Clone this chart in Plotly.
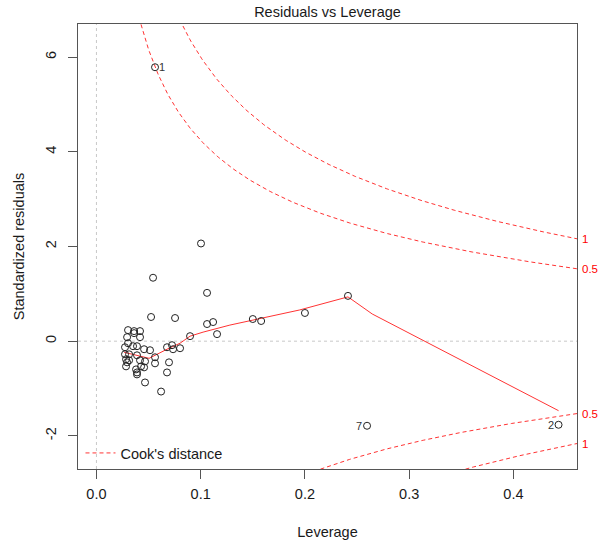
import numpy as np
import plotly.graph_objects as go

# Leverage (hat values) and standardized residuals
leverage = [0.0303, 0.0361, 0.0418, 0.0294, 0.0361, 0.0418, 0.0303, 0.0351, 0.0389, 0.0274,
            0.0457, 0.0514, 0.0274, 0.0313, 0.0389, 0.0562, 0.0284, 0.0313, 0.0294, 0.0418,
            0.0466, 0.0284, 0.0428, 0.0457, 0.0562, 0.0380, 0.0389, 0.0389, 0.0466, 0.0620,
            0.0696, 0.0677, 0.0677, 0.0725, 0.0735, 0.0802, 0.0898, 0.0754, 0.0524, 0.1061,
            0.1119, 0.1157, 0.1061, 0.1003, 0.0543, 0.1500, 0.1580, 0.2000, 0.2413,
            0.0562, 0.2596, 0.4433]
std_resid = [0.234, 0.213, 0.213, 0.085, 0.170, 0.085, -0.043, -0.106, -0.106, -0.128,
             -0.170, -0.191, -0.277, -0.277, -0.298, -0.340, -0.383, -0.404, -0.447, -0.404,
             -0.426, -0.532, -0.532, -0.553, -0.468, -0.596, -0.660, -0.702, -0.872, -1.064,
             -0.447, -0.660, -0.128, -0.085, -0.170, -0.149, 0.106, 0.489, 0.511, 0.362,
             0.404, 0.149, 1.021, 2.064, 1.340, 0.468, 0.426, 0.596, 0.957,
             5.787, -1.787, -1.766]
labelled_idx = [49, 50, 51]
labelled_text = ["1", "7", "2"]

# lowess smoother
smooth_x = [0.0265, 0.0505, 0.0677, 0.0802, 0.0898, 0.1023, 0.128, 0.150, 0.195, 0.2413, 0.2646, 0.4433]
smooth_y = [-0.234, -0.362, -0.170, -0.043, 0.106, 0.191, 0.340, 0.447, 0.66, 0.936, 0.574, -1.468]

# Cook's distance contour settings
n_params = 4
cook_levels = [0.5, 1.0]

x_range = [-0.0177, 0.461]
y_range = [-2.70, 6.70]
x_ticks = [0.0, 0.1, 0.2, 0.3, 0.4]
y_ticks = [-2, 0, 2, 4, 6]
y_tick_text = ["-2", "0", "2", "4", "6"]

FONT = "Liberation Sans, Arial, sans-serif"
FS = 14.5
TXT = "#1a1a1a"
fig = go.Figure()

hh = np.linspace(0.005, x_range[1], 400)
for i, c in enumerate(cook_levels):
    cl = np.sqrt(c * n_params * (1 - hh) / hh)
    for sgn in (1, -1):
        fig.add_trace(go.Scatter(
            x=hh, y=sgn * cl, mode="lines",
            line=dict(color="rgba(255,0,0,0.8)", width=1, dash="4px,3px"),
            name="Cook's distance",
            showlegend=(i == 0 and sgn == 1), hoverinfo="skip"))

fig.add_trace(go.Scatter(x=smooth_x, y=smooth_y, mode="lines",
                         line=dict(color="rgba(255,0,0,0.8)", width=1),
                         showlegend=False))

fig.add_trace(go.Scatter(x=leverage, y=std_resid, mode="markers",
                         marker=dict(symbol="circle-open", size=7,
                                     color="#222", line=dict(width=1, color="#222")),
                         showlegend=False))

# point labels
for idx, t in zip(labelled_idx, labelled_text):
    right = t == "1"
    fig.add_annotation(x=leverage[idx], y=std_resid[idx], text=t, showarrow=False,
                       xanchor="left" if right else "right", xshift=2 if right else -3,
                       font=dict(family=FONT, size=11, color="#333"))

# contour level labels on the right
for c in cook_levels:
    v = np.sqrt(c * n_params * (1 - x_range[1]) / x_range[1])
    for sgn in (1, -1):
        fig.add_annotation(x=1.0, xref="paper", y=sgn * v, text=f"{c:g}", showarrow=False,
                           xanchor="left", xshift=3,
                           font=dict(family=FONT, size=11.5, color="red"))

# dotted reference lines
fig.add_shape(type="line", x0=0, x1=0, y0=0, y1=1, xref="x", yref="paper",
              line=dict(color="#c8c8c8", width=1, dash="dot"), layer="below")
fig.add_shape(type="line", x0=0, x1=1, y0=0, y1=0, xref="paper", yref="y",
              line=dict(color="#c8c8c8", width=1, dash="dot"), layer="below")

axis_common = dict(showgrid=False, zeroline=False, showline=True, mirror=True,
                   linecolor="#555", linewidth=1, ticks="outside", ticklen=9,
                   tickcolor="#555", automargin=False,
                   tickfont=dict(family=FONT, size=FS, color=TXT))

fig.update_xaxes(range=x_range, tickvals=x_ticks, ticktext=[f"{v:.1f}" for v in x_ticks],
                 ticklabelstandoff=3,
                 title=dict(text="Leverage", font=dict(family=FONT, size=FS, color=TXT), standoff=25),
                 **axis_common)
fig.update_yaxes(range=y_range, tickvals=y_ticks, ticktext=y_tick_text, tickangle=-90, ticklabelstandoff=6,
                 title=dict(text="Standardized residuals", font=dict(family=FONT, size=FS, color=TXT), standoff=15),
                 **axis_common)

fig.update_layout(
    width=607, height=543,
    margin=dict(l=78, r=30, t=24, b=74),
    paper_bgcolor="white", plot_bgcolor="white",
    title=dict(text="Residuals vs Leverage", x=(78 + 577) / 2 / 607, xanchor="center",
               y=1 - 12 / 543, yanchor="middle",
               font=dict(family=FONT, size=FS, color=TXT), automargin=False),
    legend=dict(x=0.005, y=0.0, xanchor="left", yanchor="bottom", bgcolor="rgba(0,0,0,0)",
                font=dict(family=FONT, size=FS, color=TXT)),
    font=dict(family=FONT),
)

# remove the browser's default 8px body margin so the figure sits at the page origin
fig.write_html("out.html", config={"displayModeBar": False},
               post_script="document.body.style.margin='0';")
